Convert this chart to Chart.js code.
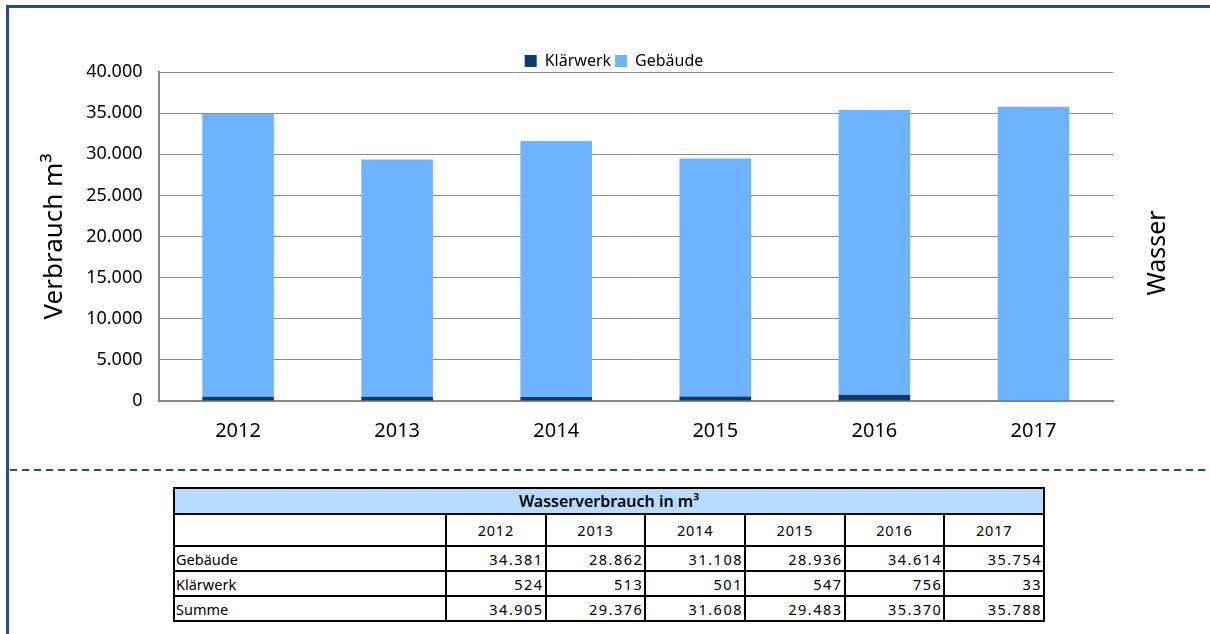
<!DOCTYPE html>
<html>
<head>
<meta charset="utf-8">
<script src="https://cdn.jsdelivr.net/npm/chart.js@4.4.1/dist/chart.umd.min.js"></script>
<style>
  html, body { margin: 0; padding: 0; background: #fff; }
  body { width: 1210px; height: 634px; position: relative; overflow: hidden; font-family: "Noto Sans", "Open Sans", sans-serif; }
  #frame { position: absolute; left: 6px; top: 5px; right: -10px; bottom: -10px; border-left: 3px solid #1f4e8c; border-top: 3px solid #1f4e8c; }
  #chartBox { position: absolute; left: 0; top: 0; width: 1210px; height: 466px; }
  #dash { position: absolute; left: 10px; top: 469px; width: 1200px; height: 2px;
    background: repeating-linear-gradient(to right, #1f4e8c 0 7px, transparent 7px 12px); }
  table { position: absolute; left: 173px; top: 487px; width: 872px; border-collapse: collapse; font-size: 14.5px; color: #000; }
  td { border: 2px solid #000; padding: 0 1px; height: 23px; line-height: 18px; }
  td.num { text-align: right; letter-spacing: 1.5px; }
  tr.title td { background: #b7dcff; text-align: center; font-weight: 600; font-size: 16px; height: 24px; }
  tr.years td { text-align: center; height: 30px; letter-spacing: 0.8px; }
  td.first { width: 268px; }
</style>
</head>
<body>
<div id="frame"></div>
<div id="chartBox"><canvas id="waterChart"></canvas></div>
<div id="dash"></div>
<table id="tbl"></table>
<script>
// Wasserverbrauch in m³
const years = ["2012", "2013", "2014", "2015", "2016", "2017"];
const gebaeude = [34381, 28862, 31108, 28936, 34614, 35754];
const klaerwerk = [524, 513, 501, 547, 756, 33];
// sums as printed in the source table (rounded there)
const summe = [34905, 29376, 31608, 29483, 35370, 35788];
const yTicks = [0, 5000, 10000, 15000, 20000, 25000, 30000, 35000, 40000];

function fmt(v) {
  return v.toLocaleString("de-DE");
}

// table below the chart
function buildTable() {
  const tbl = document.getElementById("tbl");
  const row = (name, arr) => `<tr><td>${name}</td>${arr.map(v => `<td class="num">${fmt(v)}</td>`).join("")}</tr>`;
  let html = `<tr class="title"><td colspan="${years.length + 1}">Wasserverbrauch in m³</td></tr>`;
  html += `<tr class="years"><td class="first"></td>${years.map(y => `<td>${y}</td>`).join("")}</tr>`;
  html += row("Gebäude", gebaeude);
  html += row("Klärwerk", klaerwerk);
  html += row("Summe", summe);
  tbl.innerHTML = html;
}

// "Wasser" on the right side
const sideLabel = {
  id: "sideLabel",
  afterDraw(chart) {
    const ctx = chart.ctx;
    ctx.save();
    ctx.translate(1158, 253);
    ctx.rotate(-Math.PI / 2);
    ctx.font = "25px 'Noto Sans'";
    ctx.fillStyle = "#000";
    ctx.textAlign = "center";
    ctx.textBaseline = "middle";
    ctx.fillText("Wasser", 0, 0);
    ctx.restore();
  }
};

// pull the plot a bit closer to the legend and move the legend right
const tightLegend = {
  id: "tightLegend",
  beforeInit(chart) {
    const origFit = chart.legend.fit;
    chart.legend.fit = function () {
      origFit.call(this);
      this.height -= 7;
    };
  },
  afterLayout(chart) {
    chart.legend.left += 40;
    chart.legend.right += 40;
  }
};

function buildChart() {
  const ctx = document.getElementById("waterChart").getContext("2d");
  new Chart(ctx, {
    type: "bar",
    data: {
      labels: years,
      datasets: [
        { label: "Klärwerk", data: klaerwerk, backgroundColor: "#0b3a70", barPercentage: 0.9, categoryPercentage: 0.5 },
        { label: "Gebäude", data: gebaeude, backgroundColor: "#6db3ff", barPercentage: 0.9, categoryPercentage: 0.5 }
      ]
    },
    options: {
      responsive: false,
      animation: false,
      maintainAspectRatio: false,
      layout: { padding: { left: 35, right: 97, top: 49, bottom: 5 } },
      plugins: {
        legend: {
          position: "top",
          labels: { boxWidth: 12, boxHeight: 12, color: "#000", font: { family: "Noto Sans", size: 16 }, padding: 4 }
        },
        tooltip: { enabled: false }
      },
      scales: {
        x: {
          stacked: true,
          grid: { display: false, drawTicks: false },
          border: { color: "#888", width: 2 },
          ticks: { color: "#000", font: { family: "Noto Sans", size: 20 }, padding: 18 }
        },
        y: {
          stacked: true,
          min: 0,
          max: 40000,
          afterBuildTicks(axis) { axis.ticks = yTicks.map(v => ({ value: v })); },
          grid: { color: "#8c8c8c", drawTicks: false },
          border: { color: "#888", width: 2 },
          ticks: { color: "#000", font: { family: "Noto Sans", size: 18 }, padding: 16, callback: v => fmt(v) },
          title: { display: true, text: "Verbrauch m³", color: "#000", font: { family: "Noto Sans", size: 26 }, padding: { top: 4, bottom: 0 } }
        }
      }
    },
    plugins: [sideLabel, tightLegend]
  });
}

document.getElementById("waterChart").width = 1210;
document.getElementById("waterChart").height = 466;
buildTable();
buildChart();
</script>
</body>
</html>
